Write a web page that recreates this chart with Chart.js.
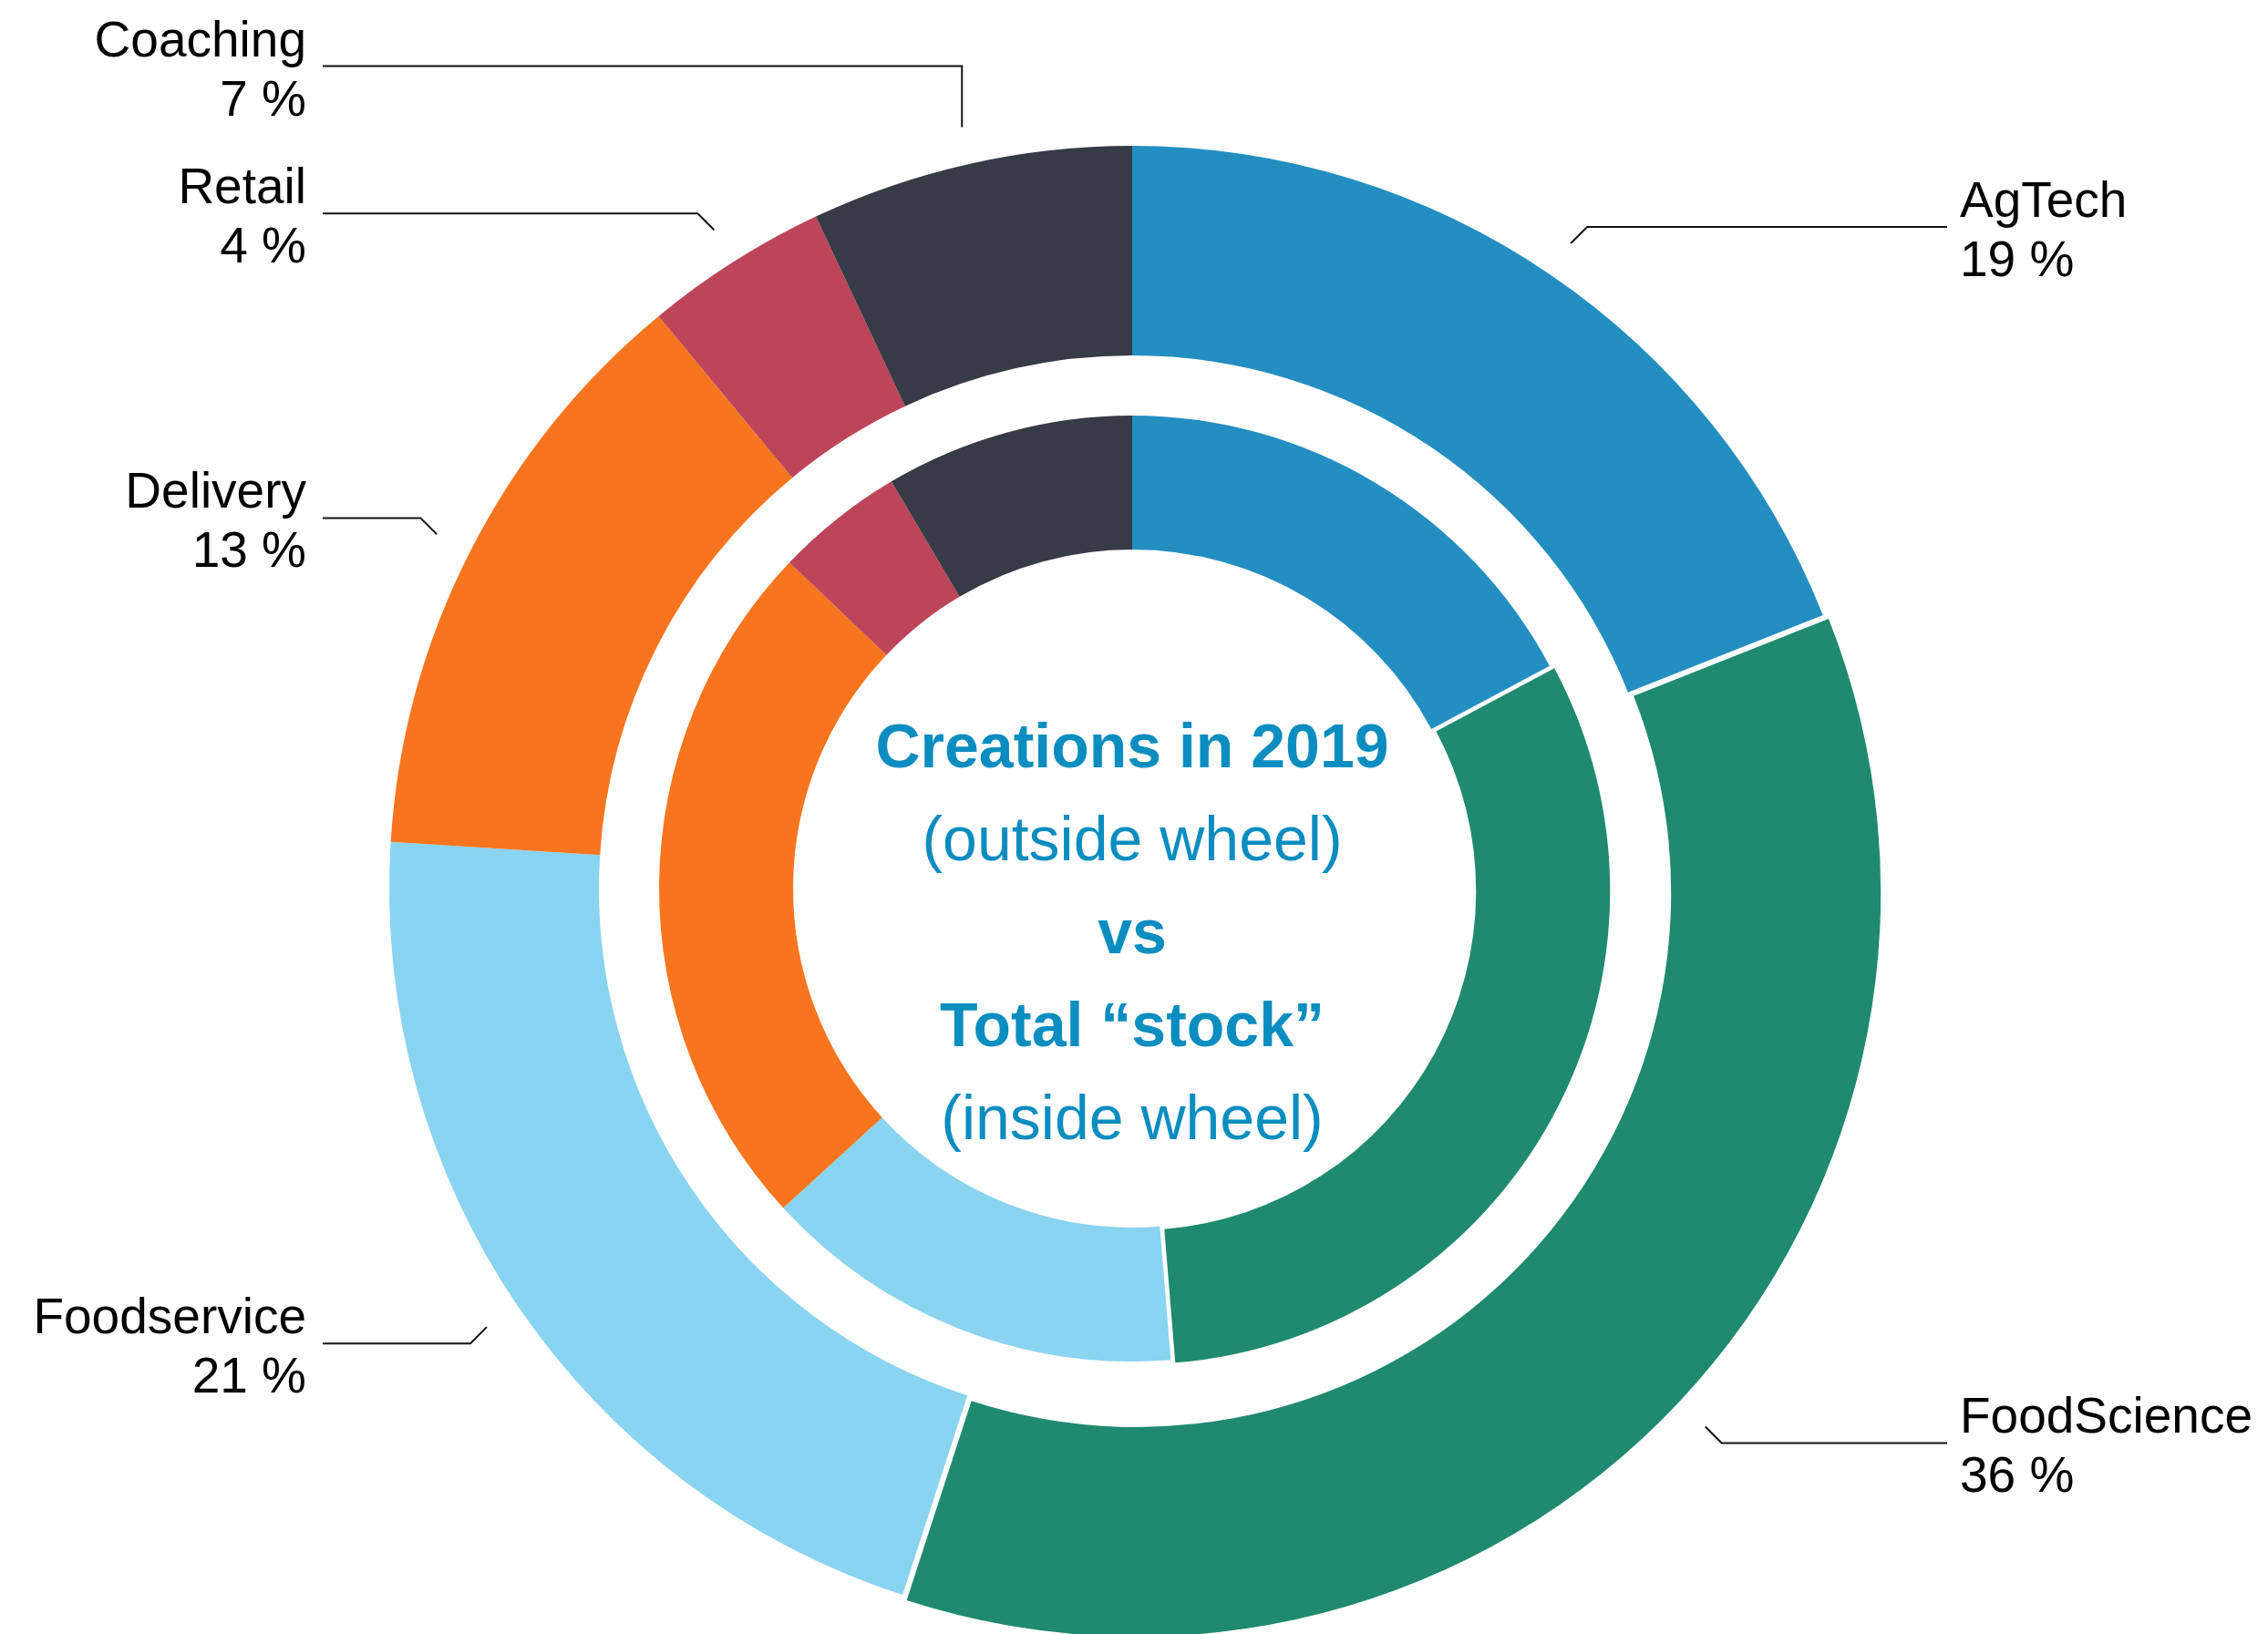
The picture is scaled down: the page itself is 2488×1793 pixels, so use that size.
<!DOCTYPE html>
<html>
<head>
<meta charset="utf-8">
<title>Creations in 2019 vs Total stock</title>
<script src="https://cdn.jsdelivr.net/npm/chart.js@4.4.1/dist/chart.umd.min.js"></script>
<style>
  html, body { margin: 0; padding: 0; background: #fff; }
  #wrap { position: relative; width: 2488px; height: 1793px; }
</style>
</head>
<body>
<div id="wrap"><canvas id="wheelChart"></canvas></div>
<script>
// --- DATA ---
const categories = ['AgTech', 'FoodScience', 'Foodservice', 'Delivery', 'Retail', 'Coaching'];
const creations2019 = [19, 36, 21, 13, 4, 7];              // outside wheel (%)
const totalStock = [17.2, 31.5, 14.5, 23.9, 4.4, 8.5];      // inside wheel (%)
const centerLines = ['Creations in 2019', '(outside wheel)', 'vs', 'Total “stock”', '(inside wheel)'];
const centerBold = [true, false, true, true, false];

// --- STYLE ---
const sectorColors = ['#238ec1', '#1f8a70', '#89d4f0', '#f8751f', '#bd455a', '#373a47'];
const titleBlue = '#0b8dc0';
const labelFont = '55px "Liberation Sans", Arial, sans-serif';
// first leg of each leader line, from the ring to the elbow
const leaderLegs = [[18, -18], [18, 18], [-18, 18], [-18, -18], [-18, -18], [0, -67]];
const leftColumn = 336, rightColumn = 2150;

// leader lines, category labels and the title in the hole
const wheelLabels = {
  id: 'wheelLabels',
  afterDraw(chart) {
    const ctx = chart.ctx;
    const meta = chart.getDatasetMeta(0);
    ctx.save();
    ctx.strokeStyle = '#111';
    ctx.lineWidth = 2;
    ctx.fillStyle = '#000';
    ctx.font = labelFont;
    ctx.textBaseline = 'alphabetic';

    meta.data.forEach((arc, i) => {
      const p = arc.getProps(['x', 'y', 'startAngle', 'endAngle', 'outerRadius'], true);
      const mid = (p.startAngle + p.endAngle) / 2;
      const r = p.outerRadius + 41 + (arc.options.offset || 0) / 4;
      const ax = p.x + Math.cos(mid) * r;
      const ay = p.y + Math.sin(mid) * r;
      const ex = ax + leaderLegs[i][0];
      const ey = ay + leaderLegs[i][1];
      const right = Math.cos(mid) > 0;
      const endX = right ? rightColumn - 14 : leftColumn + 18;

      ctx.beginPath();
      ctx.moveTo(ax, ay);
      ctx.lineTo(ex, ey);
      ctx.lineTo(endX, ey);
      ctx.stroke();

      ctx.textAlign = right ? 'left' : 'right';
      const tx = right ? rightColumn : leftColumn;
      ctx.fillText(categories[i], tx, ey - 11);
      ctx.fillText(creations2019[i] + ' %', tx, ey + 54);
    });

    // title in the middle of the wheel
    const cx = meta.data[0].x, cy = meta.data[0].y;
    ctx.fillStyle = titleBlue;
    ctx.textAlign = 'center';
    centerLines.forEach((line, i) => {
      ctx.font = (centerBold[i] ? 'bold ' : '') + '68px "Liberation Sans", Arial, sans-serif';
      ctx.fillText(line, cx, cy - 133 + i * 102);
    });
    ctx.restore();
  }
};

document.addEventListener('DOMContentLoaded', () => {
  const ctx = document.getElementById('wheelChart').getContext('2d');
  new Chart(ctx, {
    type: 'doughnut',
    data: {
      labels: categories,
      datasets: [
        {
          label: 'Creations in 2019',
          data: creations2019,
          backgroundColor: sectorColors,
          borderWidth: 0,
          weight: 230,
          offset: [0, 26, 0, 0, 0, 0],
          clip: false
        },
        {
          // white band between the two wheels
          label: '',
          data: [1],
          backgroundColor: 'rgba(0,0,0,0)',
          borderWidth: 0,
          weight: 66,
          clip: false
        },
        {
          label: 'Total stock',
          data: totalStock,
          backgroundColor: sectorColors,
          borderWidth: 0,
          weight: 147,
          offset: [0, 22, 0, 0, 0, 0],
          clip: false
        }
      ]
    },
    options: {
      responsive: true,
      maintainAspectRatio: false,
      animation: false,
      events: [],
      radius: 815,
      cutout: '45.64%',
      layout: { padding: { top: 157, right: 4 } },
      plugins: {
        legend: { display: false },
        tooltip: { enabled: false }
      }
    },
    plugins: [wheelLabels]
  });
});
</script>
</body>
</html>
